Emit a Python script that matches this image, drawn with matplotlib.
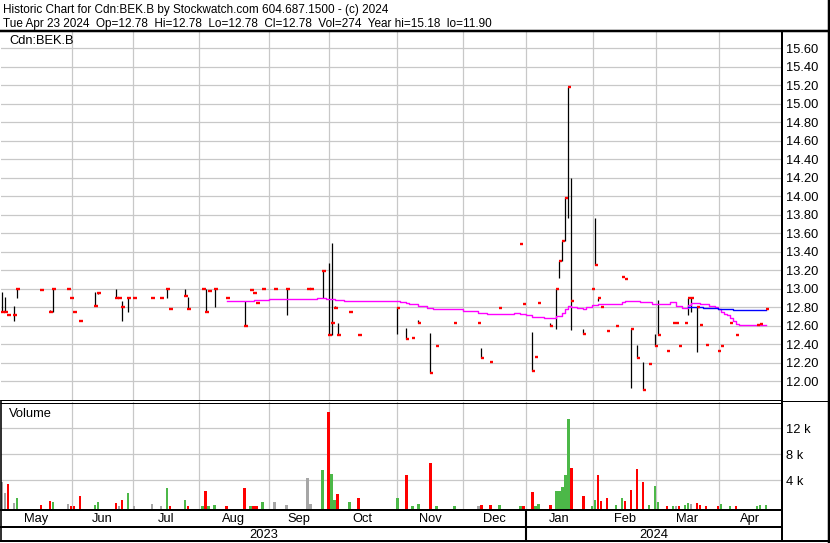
import matplotlib
matplotlib.use('Agg')
import matplotlib.pyplot as plt
from matplotlib.lines import Line2D
import numpy as np

plt.rcParams['font.family'] = ['Liberation Sans', 'DejaVu Sans']

W, H = 830, 543
FS = 9.3
HEAD_FS = 8.45

symbol = 'Cdn:BEK.B'
title_line = 'Historic Chart for Cdn:BEK.B by Stockwatch.com 604.687.1500 - (c) 2024'
quote_line = ('Tue Apr 23 2024  Op=12.78  Hi=12.78  Lo=12.78  Cl=12.78  '
              'Vol=274  Year hi=15.18  lo=11.90')

# trading-day index of every session that printed a trade
day = [0, 1, 2, 4, 5, 13, 16, 17, 22, 23, 24, 26, 31, 32, 38, 39, 40, 42, 44, 50,
       53, 55, 56, 61, 62, 67, 68, 69, 71, 75, 81, 83, 84, 85, 87, 91, 95, 102, 103, 107,
       109, 110, 111, 112, 116, 119, 132, 135, 137, 139, 143, 145, 151, 159, 160, 163, 166, 173, 174, 177,
       178, 179, 183, 185, 186, 187, 188, 189, 190, 194, 197, 198, 199, 200, 202, 205, 207, 208, 210, 212,
       214, 216, 218, 219, 222, 224, 225, 226, 228, 229, 230, 232, 233, 235, 239, 240, 243, 245, 252, 253, 255]
high = [12.96, 12.91, 12.71, 12.81, 13.00, 12.98, 12.77, 13.00, 13.00, 12.90, 12.75, 12.65, 12.96, 12.96, 13.00, 12.90, 12.86, 12.90, 12.90, 12.90,
        12.90, 13.00, 12.78, 13.00, 12.91, 13.00, 13.00, 12.97, 13.00, 12.90, 12.87, 12.98, 12.95, 12.84, 13.00, 13.00, 13.00, 13.00, 13.00, 13.19,
        13.28, 13.49, 12.81, 12.63, 12.75, 12.50, 12.80, 12.57, 12.47, 12.66, 12.52, 12.38, 12.63, 12.63, 12.36, 12.21, 12.79, 13.48, 12.83, 12.53,
        12.26, 12.84, 12.63, 13.00, 13.30, 13.51, 13.99, 15.18, 14.19, 12.56, 12.99, 13.76, 12.90, 12.80, 12.54, 12.59, 13.12, 13.10, 12.56, 12.39,
        12.21, 12.18, 12.51, 12.88, 12.33, 12.63, 12.63, 12.38, 12.63, 12.90, 12.90, 12.80, 12.61, 12.39, 12.32, 12.38, 12.63, 12.50, 12.61, 12.62, 12.78]
low = [12.75, 12.75, 12.71, 12.65, 12.90, 12.98, 12.75, 12.75, 13.00, 12.90, 12.75, 12.65, 12.81, 12.94, 12.90, 12.90, 12.65, 12.75, 12.90, 12.90,
       12.90, 12.90, 12.78, 12.92, 12.78, 13.00, 12.75, 12.97, 12.80, 12.90, 12.60, 12.98, 12.95, 12.84, 13.00, 13.00, 12.71, 13.00, 13.00, 12.90,
       12.50, 12.50, 12.79, 12.50, 12.75, 12.50, 12.51, 12.45, 12.47, 12.63, 12.09, 12.38, 12.63, 12.63, 12.25, 12.21, 12.79, 13.48, 12.83, 12.11,
       12.26, 12.84, 12.60, 12.56, 13.11, 13.30, 13.51, 13.76, 12.55, 12.51, 12.99, 13.25, 12.87, 12.80, 12.54, 12.59, 13.12, 13.10, 11.93, 12.25,
       11.90, 12.18, 12.38, 12.50, 12.33, 12.63, 12.63, 12.38, 12.63, 12.71, 12.75, 12.31, 12.61, 12.39, 12.32, 12.38, 12.63, 12.50, 12.61, 12.62, 12.78]
close = [12.75, 12.75, 12.71, 12.71, 13.00, 12.98, 12.75, 13.00, 13.00, 12.90, 12.75, 12.65, 12.81, 12.95, 12.90, 12.90, 12.80, 12.90, 12.90, 12.90,
         12.90, 13.00, 12.78, 12.92, 12.78, 13.00, 12.75, 12.97, 13.00, 12.90, 12.60, 12.98, 12.95, 12.84, 13.00, 13.00, 13.00, 13.00, 13.00, 13.19,
         12.50, 12.63, 12.79, 12.50, 12.75, 12.50, 12.79, 12.45, 12.47, 12.63, 12.09, 12.38, 12.63, 12.63, 12.25, 12.21, 12.79, 13.48, 12.83, 12.11,
         12.26, 12.84, 12.60, 13.00, 13.30, 13.51, 13.98, 15.18, 12.86, 12.51, 12.99, 13.25, 12.90, 12.80, 12.54, 12.59, 13.12, 13.10, 12.56, 12.25,
         11.90, 12.18, 12.38, 12.50, 12.33, 12.63, 12.63, 12.38, 12.63, 12.90, 12.90, 12.80, 12.61, 12.39, 12.32, 12.38, 12.63, 12.50, 12.61, 12.62, 12.78]
volume = [3690, 2050, 3430, 510, 1280, 200, 815, 660, 350, 50, 100, 1585, 200, 660, 510, 50, 970, 2050, 100, 350,
          50, 2815, 100, 970, 100, 100, 2350, 50, 200, 50, 2815, 50, 100, 100, 660, 660, 200, 4400, 350, 5580,
          14550, 4970, 970, 1890, 660, 1280, 1280, 4815, 100, 350, 6660, 50, 50, 50, 200, 200, 250, 100, 100, 2200,
          100, 350, 200, 2350, 2350, 2970, 4815, 13430, 5890, 1585, 100, 970, 4815, 815, 1280, 200, 1280, 815, 2510, 5740,
          3740, 250, 3120, 660, 100, 100, 100, 100, 200, 510, 350, 510, 200, 50, 100, 350, 50, 50, 100, 200, 274]

# moving averages (value holds until the next listed day)
ma_day = [75, 84, 89, 105, 108, 111, 114, 117, 133, 135, 136, 139, 142, 144, 154, 159, 162, 167, 171, 173,
          175, 177, 181, 185, 187, 188, 189, 190, 192, 194, 195, 197, 199, 207, 208, 209, 211, 213, 217, 223,
          225, 227, 229, 230, 233, 236, 238, 239, 240, 241, 242, 243, 244, 245, 246, 255]
ma_val = [12.87, 12.88, 12.89, 12.90, 12.89, 12.88, 12.87, 12.86, 12.85, 12.84, 12.83, 12.81, 12.79, 12.78, 12.76, 12.74, 12.72, 12.73, 12.74, 12.73,
          12.71, 12.69, 12.68, 12.70, 12.74, 12.78, 12.81, 12.80, 12.79, 12.78, 12.80, 12.82, 12.83, 12.85, 12.86, 12.87, 12.86, 12.85, 12.83, 12.85,
          12.81, 12.79, 12.82, 12.84, 12.83, 12.81, 12.80, 12.78, 12.75, 12.73, 12.71, 12.68, 12.65, 12.62, 12.61, 12.61]
ma2_day = [229, 234, 239, 244, 255]
ma2_val = [12.80, 12.79, 12.78, 12.77, 12.77]

month_names = ['May', 'Jun', 'Jul', 'Aug', 'Sep', 'Oct', 'Nov', 'Dec', 'Jan', 'Feb', 'Mar', 'Apr']
month_start = [23.5, 43.8, 65.8, 89.1, 109.0, 131.8, 153.8, 174.8, 197.1, 218.3, 239.1]  # Jun .. Apr
year_names = ['2023', '2024']
new_year = 174.8
x_range = (-0.2, 260.2)

price_ticks = np.round(np.arange(12.0, 15.61, 0.2), 2)
vol_ticks = [4000, 8000, 12000]
vol_tick_labels = ['4 k', '8 k', '12 k']

GRID = '#c8c8c8'
UP, DOWN, FLAT = '#4cb848', '#ff0000', '#a6a6a6'


def box(x0, y0, x1, y1):
    return [x0 / W, 1 - y1 / H, (x1 - x0) / W, (y1 - y0) / H]


def rule(fig, x0, y0, x1, y1, px=1.0):
    fig.add_artist(Line2D([x0 / W, x1 / W], [1 - y0 / H, 1 - y1 / H], transform=fig.transFigure,
                          color='black', lw=px * 0.72, solid_capstyle='butt'))


fig = plt.figure(figsize=(W / 100, H / 100), dpi=100, facecolor='white')
ax_p = fig.add_axes(box(1, 31, 782, 400))
ax_v = fig.add_axes(box(1, 402, 782, 509))
ax_t = fig.add_axes(box(1, 509, 782, 541))

for ax in (ax_p, ax_v, ax_t):
    ax.set_xlim(*x_range)
    for s in ax.spines.values():
        s.set_visible(False)
    ax.set_axisbelow(True)

# price panel
ax_p.set_ylim(11.795, 15.784)
ax_p.set_xticks(month_start)
ax_p.set_yticks(price_ticks)
ax_p.set_yticklabels(['%.2f' % v for v in price_ticks])
ax_p.yaxis.tick_right()
ax_p.tick_params(length=0, labelbottom=False, labelsize=FS, pad=3)
ax_p.grid(True, color=GRID, lw=0.9)

d = np.array(day)
ax_p.vlines(d, low, high, colors='black', lw=0.9)
ax_p.hlines(close, d - 0.1, d + 1.0, colors='red', lw=1.7, capstyle='butt', zorder=3)
ax_p.plot(ma_day, ma_val, color='#ff00ff', lw=1.0, drawstyle='steps-post', zorder=2)
ax_p.plot(ma2_day, ma2_val, color='#0000ff', lw=1.0, drawstyle='steps-post', zorder=2)
ax_p.text(0.0106, 0.974, symbol, transform=ax_p.transAxes, va='center', fontsize=FS)

# volume panel
vol_floor = -415
ax_v.set_ylim(vol_floor, 16050)
ax_v.set_xticks(month_start)
ax_v.set_yticks(vol_ticks)
ax_v.set_yticklabels(vol_tick_labels)
ax_v.yaxis.tick_right()
ax_v.tick_params(length=0, labelbottom=False, labelsize=FS, pad=3)
ax_v.grid(True, color=GRID, lw=0.9)

colors = [FLAT]
for prev, cur in zip(close[:-1], close[1:]):
    colors.append(UP if cur > prev else DOWN if cur < prev else FLAT)
ax_v.bar(d, np.array(volume) - vol_floor, bottom=vol_floor, width=0.7, color=colors)
ax_v.text(0.0106, 0.8925, 'Volume', transform=ax_v.transAxes, va='center', fontsize=FS)

# month / year rows
ax_t.set_ylim(0, 32)
ax_t.set_xticks([])
ax_t.set_yticks([])
edges = [x_range[0]] + month_start + [x_range[1]]
for name, a, b in zip(month_names, edges[:-1], edges[1:]):
    ax_t.text((a + b) / 2, 22, name, ha='center', va='center', fontsize=FS)
year_edges = [x_range[0], new_year, x_range[1]]
for name, a, b in zip(year_names, year_edges[:-1], year_edges[1:]):
    ax_t.text((a + b) / 2, 5.5, name, ha='center', va='center', fontsize=FS)
ax_t.vlines(new_year, 0, 32, colors='black', lw=1.5)

# header
fig.text(3 / W, 1 - 9.5 / H, title_line, va='center', fontsize=HEAD_FS)
fig.text(3 / W, 1 - 23.5 / H, quote_line, va='center', fontsize=HEAD_FS)

# frame
rule(fig, 0, 30.5, 830, 30.5, 2.5)
rule(fig, 0, 400, 782, 400, 1)
rule(fig, 0, 402.5, 782, 402.5, 1)
rule(fig, 782, 401, 830, 401, 1)
rule(fig, 0, 509.5, 782, 509.5, 2)
rule(fig, 0, 527, 782, 527, 2)
rule(fig, 0, 541, 830, 541, 2)
rule(fig, 782, 30, 782, 542, 2)
rule(fig, 828.5, 0, 828.5, 543, 2.5)
rule(fig, 0.8, 400, 0.8, 542, 1.6)

fig.savefig('out.png', dpi=100)
